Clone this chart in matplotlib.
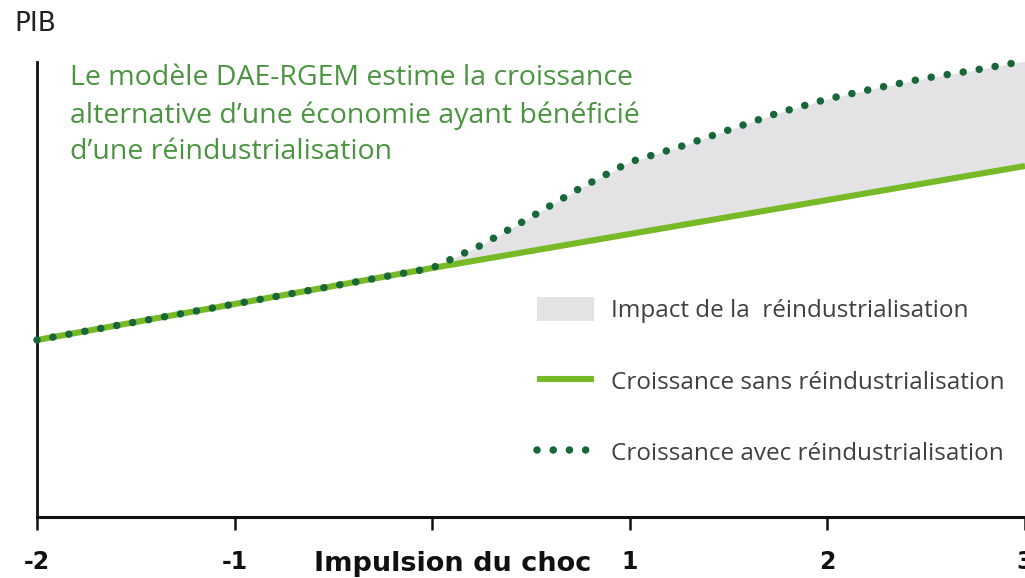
import matplotlib
matplotlib.use("Agg")
import matplotlib.pyplot as plt
import numpy as np
from matplotlib.patches import Patch
from matplotlib.lines import Line2D

# ---- data ----
x_base = [-2, -1, 0, 1, 2, 3]
y_base = [1.77, 2.13, 2.49, 2.83, 3.17, 3.51]

x_alt = [-2, -1, 0, 0.25, 0.5, 0.75, 1.0, 1.25, 1.5, 1.75, 2.0, 2.25, 2.5, 2.75, 3.0]
y_alt = [1.77, 2.13, 2.49, 2.72, 3.00, 3.29, 3.55, 3.70, 3.87, 4.04, 4.18, 4.29, 4.39, 4.47, 4.56]

tick_pos = [-2, -1, 0, 1, 2, 3]
tick_labels = ["-2", "-1", "", "1", "2", "3"]
x_title = "Impulsion du choc"
y_title = "PIB"
note = ("Le modèle DAE-RGEM estime la croissance\n"
        "alternative d’une économie ayant bénéficié\n"
        "d’une réindustrialisation")
leg_labels = ["Impact de la  réindustrialisation",
              "Croissance sans réindustrialisation",
              "Croissance avec réindustrialisation"]

GREEN = "#78b928"
DARK = "#17673a"
GREY = "#e3e3e5"
TXT_GREEN = "#4a9440"
DOTS = (0, (0.01, 2.15))

W, H = 1025, 578
fig = plt.figure(figsize=(W / 100, H / 100), dpi=100)
ax = fig.add_axes([37 / W, (H - 517) / H, (W - 37) / W, (517 - 62) / H])
ax.set_xlim(-2, 2.94)
ax.set_ylim(0, 4.55)

# fill between the two curves after the shock
xa = np.array(x_alt)
ya = np.array(y_alt)
yb_on_a = np.interp(xa, x_base, y_base)
mask = xa >= 0
ax.fill_between(xa[mask], yb_on_a[mask], ya[mask], color=GREY, lw=0, zorder=1)

ax.plot(x_base, y_base, color=GREEN, lw=4.4, solid_capstyle="butt", zorder=2)
ax.plot(x_alt, y_alt, color=DARK, lw=5.4, linestyle=DOTS,
        dash_capstyle="round", zorder=3, clip_on=False)

for s in ["top", "right"]:
    ax.spines[s].set_visible(False)
ax.spines["bottom"].set_linewidth(2.2)
ax.spines["left"].set_linewidth(2.0)
ax.spines["bottom"].set_color("#111111")
ax.spines["left"].set_color("#111111")
ax.set_yticks([])
ax.set_xticks(tick_pos)
ax.set_xticklabels(tick_labels, fontsize=17, fontweight="bold", color="#111111",
                   family="DejaVu Sans")
ax.tick_params(axis="x", length=9, width=1.8, pad=15, color="#111111")

ax.text(0.105, -0.47, x_title, ha="center", va="center", fontsize=19.5,
        fontweight="bold", family="DejaVu Sans",
        color="#111111", transform=ax.transData, clip_on=False)

fig.text(14 / W, 1 - 24 / H, y_title, ha="left", va="center", fontsize=19,
         color="#222222", family="DejaVu Sans")

fig.text(70 / W, 1 - 64 / H, note, ha="left", va="top", fontsize=20.5,
         color=TXT_GREEN, family="Open Sans", linespacing=1.42)

handles = [Patch(facecolor=GREY, edgecolor="none"),
           Line2D([0], [0], color=GREEN, lw=4.4, solid_capstyle="butt"),
           Line2D([0], [0], color=DARK, lw=5.4, linestyle=DOTS,
                  dash_capstyle="round")]
leg = fig.legend(handles, leg_labels, loc="upper left",
                 bbox_to_anchor=(537 / W, 1 - 297 / H), frameon=False,
                 prop={"family": "Open Sans", "size": 17.5}, labelspacing=1.86,
                 handlelength=2.35, handleheight=1.15, handletextpad=0.7,
                 borderpad=0, borderaxespad=0)
for t in leg.get_texts():
    t.set_color("#404040")

fig.savefig("out.png", dpi=100)
